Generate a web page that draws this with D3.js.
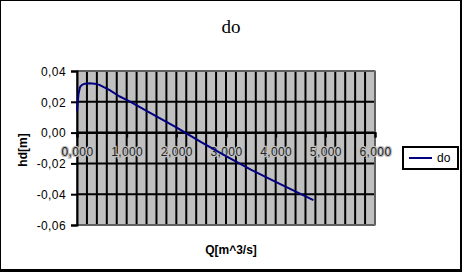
<!DOCTYPE html>
<html>
<head>
<meta charset="utf-8">
<script src="https://cdn.jsdelivr.net/npm/d3@7"></script>
<style>
  html, body { margin: 0; padding: 0; background: #fff; }
  svg { display: block; }
</style>
</head>
<body>
<div id="chart"></div>
<script>
// data
var qValues = [0, 0.03, 0.06, 0.1, 0.16, 0.25, 0.35, 0.45, 0.65, 0.85, 1.05, 1.5, 2.0, 2.5, 3.0, 3.5, 4.0, 4.5, 4.76];
var hValues = [0.014, 0.025, 0.0295, 0.031, 0.0318, 0.032, 0.0318, 0.031, 0.0277, 0.0236, 0.0205, 0.0124, 0.0034, -0.0062, -0.0153, -0.0240, -0.0320, -0.0398, -0.0439];
var xTicks = [0, 1, 2, 3, 4, 5, 6];
var yTicks = [0.04, 0.02, 0, -0.02, -0.04, -0.06];
var seriesName = "do";

var width = 462, height = 272;
var plot = { left: 77, right: 375, top: 71, bottom: 225 };

var svg = d3.select("#chart").append("svg")
  .attr("width", width)
  .attr("height", height);

// outer frame
svg.append("rect").attr("x", 0.5).attr("y", 0.5).attr("width", 460).attr("height", 269)
  .attr("fill", "#fff").attr("stroke", "#000").attr("stroke-width", 1);
svg.append("rect").attr("x", 460).attr("y", 0).attr("width", 2).attr("height", 272).attr("fill", "#000");
svg.append("rect").attr("x", 0).attr("y", 269).attr("width", 462).attr("height", 3).attr("fill", "#000");

var x = d3.scaleLinear().domain([0, 6]).range([plot.left, plot.right]);
var y = d3.scaleLinear().domain([-0.06, 0.04]).range([plot.bottom, plot.top]);

// plot background
svg.append("rect")
  .attr("x", plot.left).attr("y", plot.top)
  .attr("width", plot.right - plot.left).attr("height", plot.bottom - plot.top)
  .attr("fill", "#c0c0c0");

// minor vertical gridlines every 0,2
var minor = d3.range(0, 31).map(function (i) { return i * 0.2; });
svg.append("g").selectAll("line").data(minor).enter().append("line")
  .attr("x1", function (d) { return x(d); }).attr("x2", function (d) { return x(d); })
  .attr("y1", plot.top).attr("y2", plot.bottom)
  .attr("stroke", "#000").attr("stroke-width", 2);

// horizontal gridlines
svg.append("g").selectAll("line").data(yTicks).enter().append("line")
  .attr("x1", plot.left).attr("x2", plot.right)
  .attr("y1", function (d) { return y(d); }).attr("y2", function (d) { return y(d); })
  .attr("stroke", "#000").attr("stroke-width", 2);

// plot border
svg.append("rect")
  .attr("x", plot.left).attr("y", plot.top)
  .attr("width", plot.right - plot.left).attr("height", plot.bottom - plot.top)
  .attr("fill", "none").attr("stroke", "#808080").attr("stroke-width", 1.5);

// y axis
var fmtY = function (d) { return d3.format(".2f")(d).replace("−", "-").replace(".", ","); };
var yAxis = d3.axisLeft(y).tickValues(yTicks).tickSize(6).tickFormat(fmtY);
var gy = svg.append("g").attr("transform", "translate(" + plot.left + ",0)").call(yAxis);
gy.select(".domain").attr("stroke", "#000").attr("stroke-width", 2);
gy.selectAll(".tick line").attr("stroke", "#000").attr("stroke-width", 2);
gy.selectAll("text")
  .attr("x", -11).attr("dy", "0.35em")
  .style("font-family", "Arial, 'Liberation Sans', sans-serif")
  .style("font-size", "12px").style("letter-spacing", "0.4px").attr("fill", "#000");

// x axis along zero line
var fmtX = function (d) { return d3.format(".3f")(d).replace(".", ","); };
var xAxis = d3.axisBottom(x).tickValues(xTicks).tickSize(5).tickFormat(fmtX);
var gx = svg.append("g").attr("transform", "translate(0," + y(0) + ")").call(xAxis);
gx.select(".domain").attr("stroke", "#000").attr("stroke-width", 2);
gx.selectAll(".tick line").attr("stroke", "#000").attr("stroke-width", 2);
gx.selectAll("text")
  .attr("y", 0).attr("dy", "23px")
  .style("font-family", "Arial, 'Liberation Sans', sans-serif")
  .style("font-size", "12px").style("letter-spacing", "0.4px")
  .attr("fill", "#222")
  .attr("stroke", "#c0c0c0").attr("stroke-width", 2.5)
  .style("paint-order", "stroke");

// series line
var pts = qValues.map(function (q, i) { return [q, hValues[i]]; });
var line = d3.line()
  .x(function (d) { return x(d[0]); })
  .y(function (d) { return y(d[1]); });
svg.append("path").datum(pts)
  .attr("d", line)
  .attr("fill", "none").attr("stroke", "#000080").attr("stroke-width", 2)
  .attr("stroke-linejoin", "round");

// title
svg.append("text").attr("x", 231).attr("y", 33)
  .attr("text-anchor", "middle")
  .style("font-family", "'Times New Roman', 'Liberation Serif', serif")
  .style("font-size", "19px").text(seriesName);

// axis titles
svg.append("text").attr("x", 231).attr("y", 254)
  .attr("text-anchor", "middle")
  .style("font-family", "Arial, 'Liberation Sans', sans-serif")
  .style("font-size", "12px").style("font-weight", "bold")
  .text("Q[m^3/s]");
svg.append("text")
  .attr("transform", "translate(27,150) rotate(-90)")
  .attr("text-anchor", "middle")
  .style("font-family", "Arial, 'Liberation Sans', sans-serif")
  .style("font-size", "12px").style("font-weight", "bold")
  .text("hd[m]");

// legend
var lg = svg.append("g");
lg.append("rect").attr("x", 403).attr("y", 147).attr("width", 55).attr("height", 22)
  .attr("fill", "#fff").attr("stroke", "#000").attr("stroke-width", 2);
lg.append("line").attr("x1", 409).attr("x2", 432).attr("y1", 158).attr("y2", 158)
  .attr("stroke", "#000080").attr("stroke-width", 2);
lg.append("text").attr("x", 437).attr("y", 162)
  .style("font-family", "Arial, 'Liberation Sans', sans-serif")
  .style("font-size", "12px").text(seriesName);
</script>
</body>
</html>
